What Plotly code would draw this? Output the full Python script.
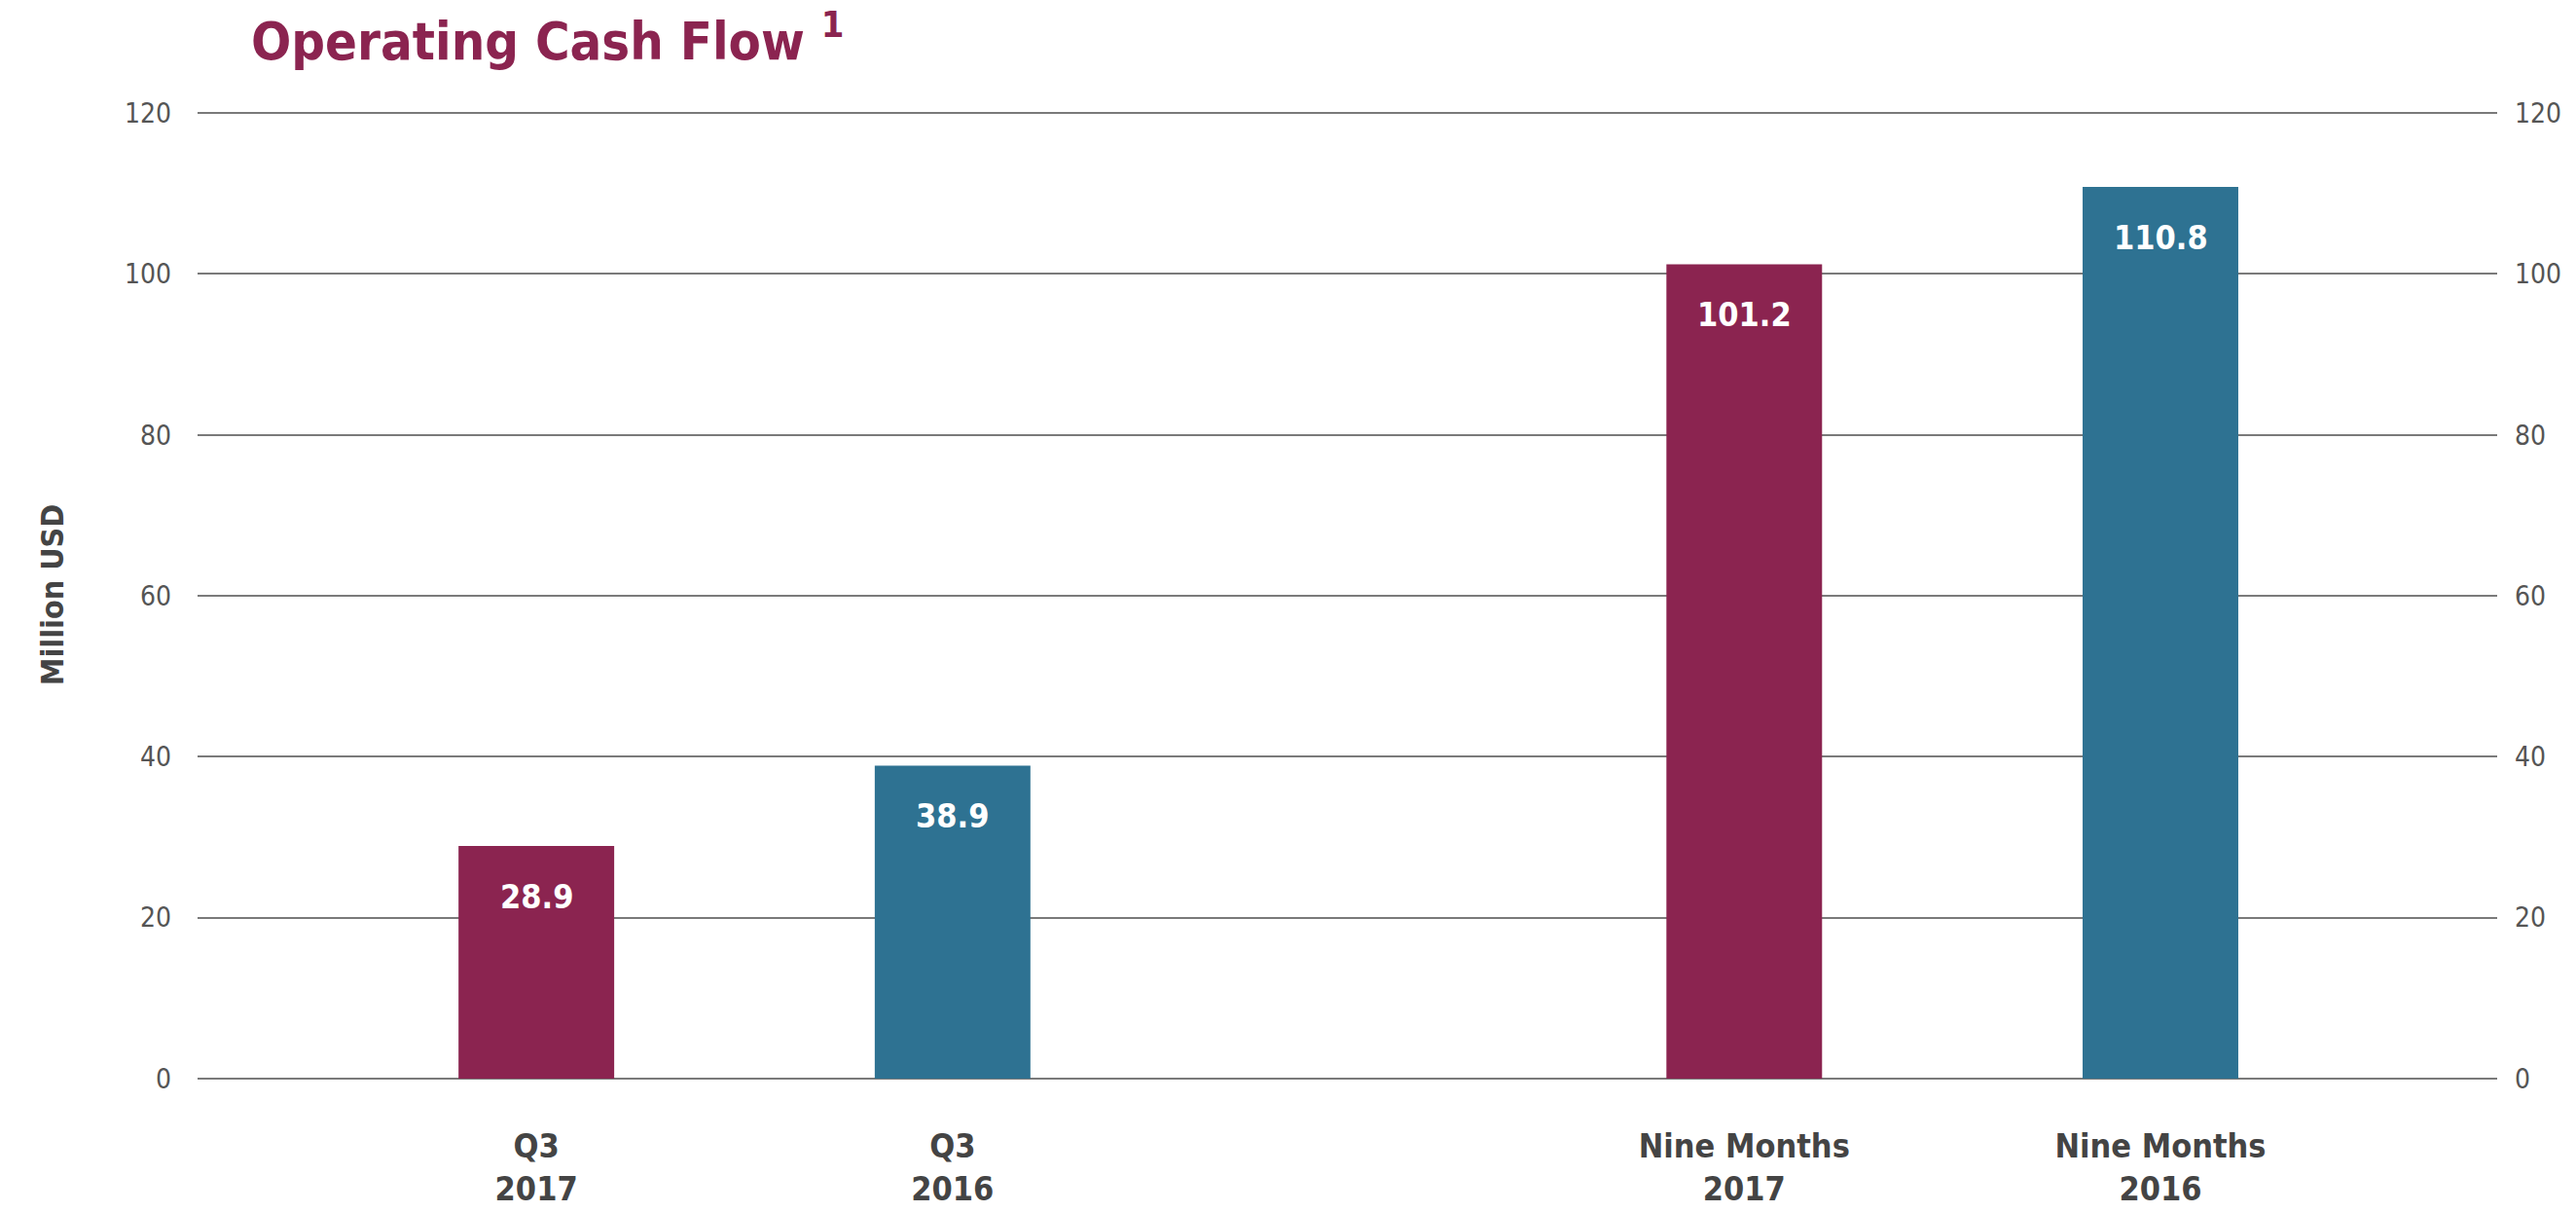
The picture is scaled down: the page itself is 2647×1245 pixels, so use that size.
import plotly.graph_objects as go

# Operating cash flow, million USD
categories = ["Q3<br>2017", "Q3<br>2016", "Nine Months<br>2017", "Nine Months<br>2016"]
values = [28.9, 38.9, 101.2, 110.8]
bar_colors = ["#8B2450", "#2E7292", "#8B2450", "#2E7292"]
y_ticks = [0, 20, 40, 60, 80, 100, 120]

# Two groups of two bars (quarter, nine months) with a wider gap between them
GROUP_GAP = 1.902
x_pos = [0, 1, 1 + GROUP_GAP, 2 + GROUP_GAP]

COND = "DejaVu Sans Condensed, sans-serif"
CRIMSON = "#8B2450"
GRID = "#7a7a7a"

fig = go.Figure()
fig.add_trace(go.Bar(
    x=x_pos,
    y=values,
    width=0.374,
    marker=dict(color=bar_colors, line=dict(width=0)),
    hoverinfo="skip",
    showlegend=False,
))
# Hidden trace to activate the right-hand value axis
fig.add_trace(go.Scatter(x=[x_pos[0]], y=[0], yaxis="y2", mode="markers",
                         marker=dict(opacity=0), hoverinfo="skip", showlegend=False))

# Value labels inside the top of each bar
for xp, v in zip(x_pos, values):
    fig.add_annotation(
        x=xp, y=v, xref="x", yref="y",
        text=f"<b>{v:.1f}</b>", showarrow=False,
        yanchor="middle", yshift=-52,
        font=dict(family=COND, size=34, color="white"),
    )

fig.update_layout(
    width=2647, height=1245,
    margin=dict(l=203, r=81, t=114, b=137),
    paper_bgcolor="white", plot_bgcolor="white",
    title=dict(
        text="<b>Operating Cash Flow <sup>1</sup></b>",
        x=258 / 2647, xref="container", xanchor="left",
        y=1 - 42 / 1245, yref="container", yanchor="middle",
        font=dict(family=COND, size=54, color=CRIMSON),
    ),
    xaxis=dict(
        range=[-0.814, x_pos[-1] + 0.809],
        tickmode="array", tickvals=x_pos,
        ticktext=[f"<b>{c}</b>" for c in categories],
        tickfont=dict(family=COND, size=34, color="#444444"),
        showgrid=False, zeroline=False, showline=False, ticks="",
        ticklabelstandoff=46, automargin=False,
    ),
    yaxis=dict(
        range=[0, 120.25], tickmode="array", tickvals=y_ticks,
        showgrid=True, gridcolor=GRID, gridwidth=2,
        zeroline=True, zerolinecolor=GRID, zerolinewidth=2,
        showline=False, ticks="", automargin=False,
        tickfont=dict(family=COND, size=28, color="#555555"),
        ticklabelstandoff=26,
        title=dict(text="<b>Million USD</b>", standoff=52,
                   font=dict(family=COND, size=32, color="#444444")),
    ),
    yaxis2=dict(
        range=[0, 120.25], tickmode="array", tickvals=y_ticks,
        overlaying="y", side="right", showgrid=False, zeroline=False,
        showline=False, ticks="", automargin=False,
        tickfont=dict(family=COND, size=28, color="#555555"),
        ticklabelstandoff=17,
    ),
)

fig.write_html("out.html")
